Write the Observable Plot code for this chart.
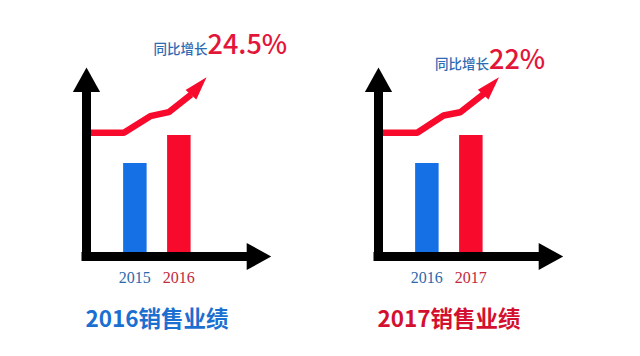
<!DOCTYPE html>
<html><head><meta charset="utf-8">
<script src="https://cdn.jsdelivr.net/npm/d3@7"></script>
<script src="https://cdn.jsdelivr.net/npm/@observablehq/plot@0.6"></script>
<style>
body{margin:0;background:#fff;width:640px;height:356px;overflow:hidden}
#wrap{display:flex;width:640px;height:356px}
#wrap svg{overflow:visible;flex:none}
</style></head><body><div id="wrap"></div>
<script>
// ---- data ----
const panelTitles = ["2016销售业绩", "2017销售业绩"];
const growthLabel = "同比增长";
const growthRates = ["24.5%", "22%"];
const years2016 = [2015, 2016];
const years2017 = [2016, 2017];
const sales2016 = [100, 130];   // relative sales index (bar heights)
const sales2017 = [100, 130];
// decorative trend arrow (x in years, y in index units); last point = arrow tip
const trend2016X = [2013.9, 2014.75, 2015.35, 2015.77, 2016.28, 2016.63];
const trend2016Y = [132.9, 132.9, 150.7, 155.0, 174.0, 192.6];
const trend2017X = [2014.9, 2015.78, 2016.38, 2016.76, 2017.29, 2017.64];
const trend2017Y = [132.9, 132.9, 151.4, 155.0, 174.5, 192.6];

// ---- styles ----
const BLUE_BAR = "#1570e6", RED_BAR = "#f70a2c";
const TITLE_COLORS = ["#1b6fd0", "#d3102f"];
const LABEL_BLUE = "#2d6bb2", NUM_RED = "#e3163a";
const YEAR_COLORS = ["#2e69ab", "#c2283f"];
const CJK = "'Noto Sans CJK SC', 'Noto Sans', sans-serif";

const axisHead = {draw(ctx, size) {
  const r = Math.sqrt(size / Math.PI);
  ctx.moveTo(0, 0); ctx.lineTo(1.36 * r, 2.45 * r); ctx.lineTo(-1.36 * r, 2.45 * r); ctx.closePath();
}};
const trendHead = {draw(ctx, size) {
  const r = Math.sqrt(size / Math.PI);
  ctx.moveTo(0, 0); ctx.lineTo(0.72 * r, 2.35 * r); ctx.lineTo(-0.72 * r, 2.35 * r); ctx.closePath();
}};

function panel({title, titleColor, years, sales, tx, ty, rate, labelDx, labelDy}) {
  const W = 292, H = 356, ml = 86, mr = 21.3, mt = 67, mb = 100;
  const xDom = [years[0] - 1.1, years[0] + 3.1];
  const yDom = [0, 203];
  const kx = (W - ml - mr) / (xDom[1] - xDom[0]);
  const ky = (H - mt - mb) / (yDom[1] - yDom[0]);
  const bars = years.map((year, i) => ({year, value: sales[i], i}));
  const pts = tx.map((x, i) => ({x, y: ty[i]}));
  const tip = pts[pts.length - 1], base = pts[pts.length - 2];
  const angle = Math.atan2((tip.x - base.x) * kx, (tip.y - base.y) * ky) * 180 / Math.PI;
  return Plot.plot({
    width: W, height: H,
    marginLeft: ml, marginRight: mr, marginTop: mt, marginBottom: mb,
    style: {overflow: "visible", background: "transparent"},
    x: {domain: xDom, axis: null},
    y: {domain: yDom, axis: null},
    marks: [
      Plot.ruleX(bars, {x: "year", y1: "value", y2: 0, stroke: d => d.i ? RED_BAR : BLUE_BAR, strokeWidth: 23.5}),
      Plot.line(pts.slice(0, -1), {x: "x", y: "y", stroke: RED_BAR, strokeWidth: 6.5, strokeLinejoin: "miter", strokeLinecap: "butt"}),
      Plot.dot([tip], {x: "x", y: "y", symbol: trendHead, r: 10, fill: RED_BAR, stroke: "none", rotate: angle}),
      // axes with arrows
      Plot.ruleX([xDom[0]], {y1: yDom[1], y2: 0, stroke: "#000", strokeWidth: 9, insetTop: 14, insetBottom: -4.5}),
      Plot.ruleY([0], {x1: xDom[0], x2: xDom[1], stroke: "#000", strokeWidth: 9, insetLeft: -4.5, insetRight: 14}),
      Plot.dot([0], {x: xDom[0], y: yDom[1], symbol: axisHead, r: 10, fill: "#000", stroke: "none"}),
      Plot.dot([0], {x: xDom[1], y: 0, symbol: axisHead, r: 10, fill: "#000", stroke: "none", rotate: 90}),
      // year labels
      Plot.text(bars, {x: "year", y: 0, text: d => String(d.year), dy: 26, lineAnchor: "bottom",
        fill: d => YEAR_COLORS[d.i], fontFamily: "'Liberation Serif', 'DejaVu Serif', serif", fontSize: 16}),
      // growth annotation
      Plot.text([tip], {x: "x", y: "y", text: () => growthLabel, textAnchor: "end", lineAnchor: "bottom",
        dx: labelDx, dy: labelDy, fill: LABEL_BLUE, fontFamily: CJK, fontSize: 13.5, fontWeight: 500}),
      Plot.text([tip], {x: "x", y: "y", text: () => rate, textAnchor: "start", lineAnchor: "bottom",
        dx: labelDx, dy: labelDy, fill: NUM_RED, fontFamily: CJK, fontSize: 27, fontWeight: 500}),
      // panel title
      Plot.text([title], {frameAnchor: "bottom-left", text: d => d, textAnchor: "start", lineAnchor: "bottom",
        dx: -1, dy: 70, fill: titleColor, fontFamily: CJK, fontWeight: "bold", fontSize: 22.5})
    ]
  });
}

const wrap = document.getElementById("wrap");
wrap.append(panel({title: panelTitles[0], titleColor: TITLE_COLORS[0], years: years2016, sales: sales2016,
  tx: trend2016X, ty: trend2016Y, rate: growthRates[0], labelDx: 1, labelDy: -23.5}));
wrap.append(panel({title: panelTitles[1], titleColor: TITLE_COLORS[1], years: years2017, sales: sales2017,
  tx: trend2017X, ty: trend2017Y, rate: growthRates[1], labelDx: -10, labelDy: -8.5}));
</script></body></html>
